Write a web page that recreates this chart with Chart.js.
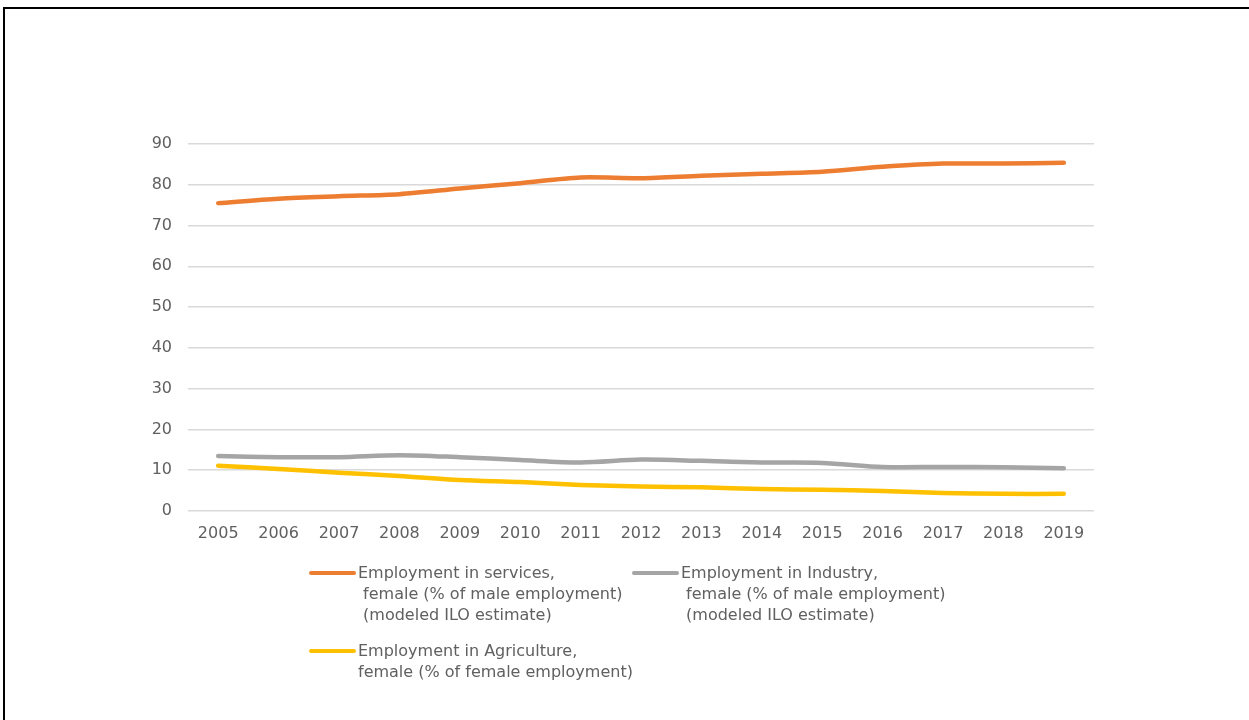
<!DOCTYPE html>
<html>
<head>
<meta charset="utf-8">
<script src="https://cdn.jsdelivr.net/npm/chart.js@4/dist/chart.umd.min.js"></script>
<style>
    html, body {
        margin: 0;
        padding: 0;
        background: #ffffff;
    }

    #frame {
        position: absolute;
        left: 3px;
        top: 7px;
        width: 1246px;
        height: 713px;
        border-left: 2px solid #000000;
        border-top: 2px solid #000000;
        box-sizing: border-box;
    }

    #wrap {
        position: absolute;
        left: 0;
        top: 0;
        width: 1249px;
        height: 720px;
    }

    #legend {
        position: absolute;
        left: 0;
        top: 0;
        font-family: "DejaVu Sans", sans-serif;
        font-size: 16px;
        line-height: 21px;
        color: #606060;
    }

    .item {
        position: absolute;
        display: flex;
        align-items: flex-start;
    }

    .swatch {
        width: 47px;
        height: 4px;
        border-radius: 2px;
        margin-top: 9px;
        margin-right: 2px;
    }

    .text {
        white-space: pre;
    }
</style>
</head>
<body>
<div id="wrap">
    <canvas id="employmentChart" width="1249" height="720"></canvas>
</div>
<div id="frame"></div>
<div id="legend"></div>

<script>
const years = ['2005', '2006', '2007', '2008', '2009', '2010', '2011', '2012', '2013', '2014', '2015', '2016', '2017', '2018', '2019'];

const servicesLabel = 'Employment in services,\n female (% of male employment)\n (modeled ILO estimate)';
const industryLabel = 'Employment in Industry,\n female (% of male employment)\n (modeled ILO estimate)';
const agricultureLabel = 'Employment in Agriculture,\nfemale (% of female employment)';

const services = [75.5, 76.6, 77.2, 77.7, 79.1, 80.4, 81.8, 81.6, 82.2, 82.7, 83.2, 84.4, 85.2, 85.2, 85.4];
const industry = [13.5, 13.2, 13.2, 13.7, 13.2, 12.5, 11.9, 12.6, 12.3, 11.9, 11.8, 10.8, 10.8, 10.7, 10.5];
const agriculture = [11.1, 10.3, 9.4, 8.6, 7.6, 7.1, 6.4, 6.0, 5.8, 5.4, 5.2, 4.9, 4.4, 4.2, 4.2];

const yTicks = [0, 10, 20, 30, 40, 50, 60, 70, 80, 90];

// legend slots, one per dataset
const legendSlots = [
    { left: 309, top: 562 },
    { left: 632, top: 562 },
    { left: 309, top: 640 },
];

const tickFont = { family: 'DejaVu Sans', size: 16 };

const lineStyle = (label, data, color) => ({
    label,
    data,
    borderColor: color,
    backgroundColor: color,
    borderWidth: 4.5,
    borderCapStyle: 'round',
    pointRadius: 0,
    pointHoverRadius: 0,
    tension: 0.3,
    fill: false,
});

const chart = new Chart(document.getElementById('employmentChart'), {
    type: 'line',
    data: {
        labels: years,
        datasets: [
            lineStyle(servicesLabel, services, '#ED7D31'),
            lineStyle(industryLabel, industry, '#A5A5A5'),
            lineStyle(agricultureLabel, agriculture, '#FFC000'),
        ],
    },
    options: {
        responsive: false,
        animation: false,
        layout: {
            padding: { left: 130, right: 155, top: 144, bottom: 169 },
        },
        plugins: {
            legend: { display: false },
            tooltip: { enabled: false },
        },
        scales: {
            x: {
                offset: true,
                grid: { display: false },
                border: { display: false },
                ticks: {
                    color: '#606060',
                    padding: 5,
                    maxRotation: 0,
                    font: tickFont,
                },
                afterFit: (scale) => { scale.height = 40; },
            },
            y: {
                min: 0,
                max: 90,
                afterBuildTicks: (scale) => {
                    scale.ticks = yTicks.map((value) => ({ value }));
                },
                grid: {
                    color: '#D9D9D9',
                    lineWidth: 1.5,
                    drawTicks: false,
                },
                border: { display: false },
                ticks: {
                    color: '#606060',
                    padding: 16,
                    font: tickFont,
                },
                afterFit: (scale) => { scale.width = 58; },
            },
        },
    },
});

// multi-line legend built from the datasets
const legend = document.getElementById('legend');
chart.data.datasets.forEach((ds, i) => {
    const item = document.createElement('div');
    item.className = 'item';
    item.style.left = legendSlots[i].left + 'px';
    item.style.top = legendSlots[i].top + 'px';

    const swatch = document.createElement('div');
    swatch.className = 'swatch';
    swatch.style.background = ds.borderColor;

    const text = document.createElement('div');
    text.className = 'text';
    text.textContent = ds.label;

    item.appendChild(swatch);
    item.appendChild(text);
    legend.appendChild(item);
});
</script>
</body>
</html>
